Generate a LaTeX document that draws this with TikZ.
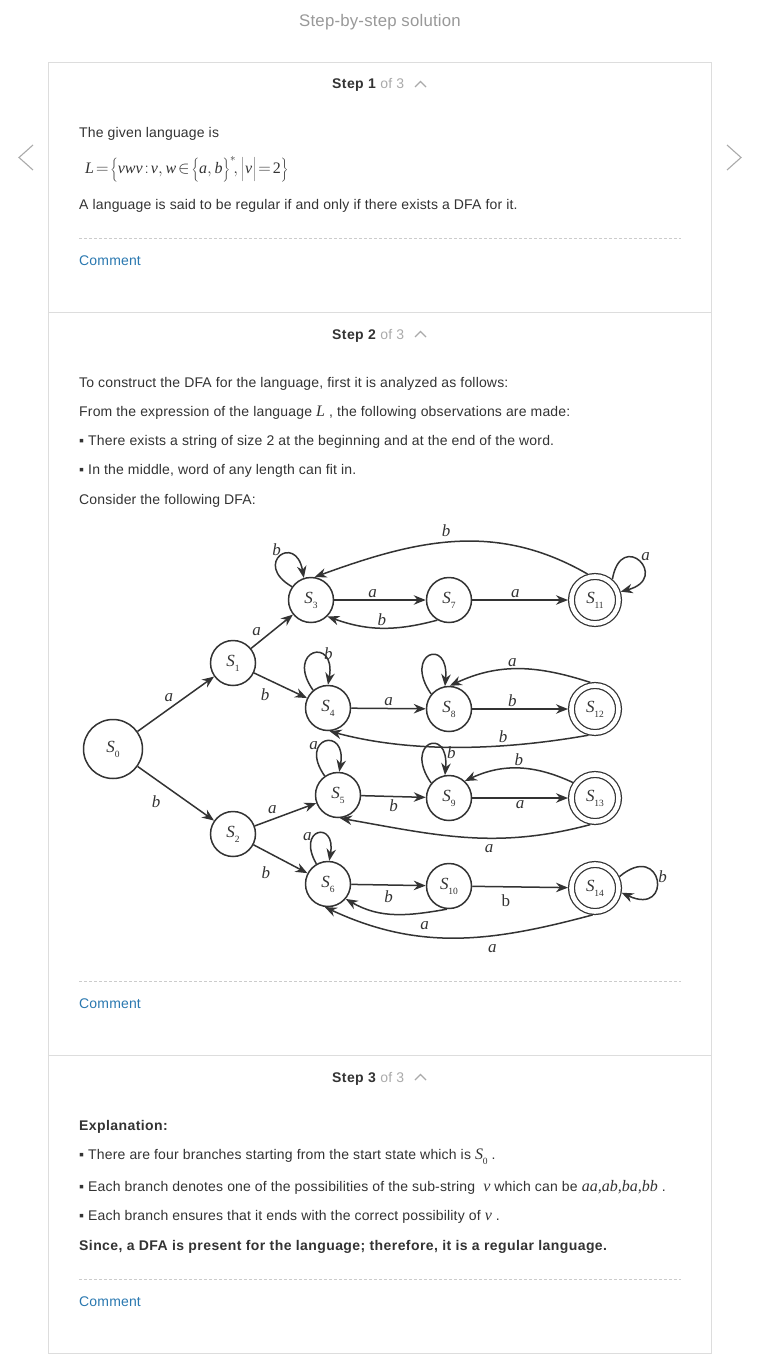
\documentclass[tikz,border=0pt]{standalone}
\usepackage{fontspec}
\setmainfont{Liberation Sans}[LetterSpace=1.2, BoldFeatures={LetterSpace=3}]
\newfontfamily\tnr{Liberation Serif}
\usetikzlibrary{arrows.meta}
\definecolor{ink}{HTML}{333333}
\definecolor{mute}{HTML}{999999}
\definecolor{faint}{HTML}{AAAAAA}
\definecolor{rulegray}{HTML}{DDDDDD}
\definecolor{dashgray}{HTML}{CCCCCC}
\definecolor{link}{HTML}{2A78B0}
\newcommand{\ital}[1]{{\tnr\itshape #1}}
\newcommand{\sn}[1]{\ital{S}\kern-0.2pt\raisebox{-0.3em}{\tnr\fontsize{9.5}{9.5}\selectfont #1}}
\newcommand{\tight}[1]{\mkern2mu{#1}\mkern2mu}
\begin{document}
\begin{tikzpicture}[x=1pt,y=-1pt,
  txt/.style={anchor=base west, inner sep=0pt, text=ink, font=\fontsize{14}{16}\selectfont},
  stephead/.style={txt, font=\fontsize{14}{16}\selectfont},
  note/.style={txt, text=link},
  caret/.style={draw=faint, line width=1.3pt},
  pager/.style={draw=faint, line width=1.1pt},
  box/.style={draw=rulegray, line width=0.9pt},
  cut/.style={draw=dashgray, line width=0.8pt, dash pattern=on 3pt off 2pt},
  st/.style={circle, draw=ink, line width=1.5pt, minimum size=45pt, inner sep=0pt, text=ink, font=\fontsize{17}{17}\selectfont},
  fin/.style={st, minimum size=47pt, double, double distance=4.6pt, line width=1.25pt, outer sep=3.5pt},
  tr/.style={draw=ink, line width=1.5pt, -{Stealth[length=12pt,width=9.5pt]}},
  lbl/.style={text=ink, inner sep=2pt, font=\tnr\itshape\fontsize{17}{17}\selectfont}]
\useasboundingbox (0,0) rectangle (760,1364);
\fill[white] (0,0) rectangle (760,1364);

% page frame
\node[txt, anchor=base, text=mute, font=\fontsize{16.8}{18}\selectfont] (title) at (380,27) {Step-by-step solution};
\draw[pager] (33,145) -- (19,157.5) -- (33,170);
\draw[pager] (727,145) -- (741,157.5) -- (727,170);
\draw[box] (48,62) rectangle (711,1353);
\draw[box] (48,312) -- (711,312);
\draw[box] (48,1055) -- (711,1055);

% step 1
\node[stephead] (h1) at (332,89) {\textbf{Step 1} \textcolor{faint}{of 3}};
\draw[caret] (415,87) -- (420.5,81.5) -- (426,87);
\node[txt] (given) at (79,137.5) {The given language is};
\node[txt, font=\fontsize{16}{18}\selectfont] (eq) at (85,174) {$\mbox{\ital{L}}\tight{=}\Biggl\{\mbox{\ital{vwv}}\tight{:}\mbox{\ital{v}},\mbox{\ital{w}}\tight{\in}\biggl\{\mbox{\ital{a}},\mbox{\ital{b}}\biggr\}^{*}\!,\biggl|\mkern1mu\mbox{\ital{v}}\mkern1mu\biggr|\tight{=}\mbox{\tnr 2}\Biggr\}$};
\node[txt] (regular) at (79,209.5) {A language is said to be regular if and only if there exists a DFA for it.};
\draw[cut] (79,238) -- (681,238);
\node[note] (c1) at (79,265.5) {Comment};

% step 2
\node[stephead] (h2) at (332,339) {\textbf{Step 2} \textcolor{faint}{of 3}};
\draw[caret] (415,337) -- (420.5,331.5) -- (426,337);
\node[txt] (l1) at (79,387.5) {To construct the DFA for the language, first it is analyzed as follows:};
\node[txt] (l2) at (79,416.5) {From the expression of the language \ital{\fontsize{16}{16}\selectfont L} , the following observations are made:};
\node[txt] (l3) at (79,445.5) {▪ There exists a string of size 2 at the beginning and at the end of the word.};
\node[txt] (l4) at (79,474.5) {▪ In the middle, word of any length can fit in.};
\node[txt] (l5) at (79,504.5) {Consider the following DFA:};

% DFA
\node[st, minimum size=59pt] (s0) at (113,749) {\sn{0}};
\node[st] (s1) at (233,663) {\sn{1}};
\node[st] (s2) at (233,834) {\sn{2}};
\node[st] (s3) at (311,600) {\sn{3}};
\node[st] (s4) at (328,708) {\sn{4}};
\node[st] (s5) at (338,795) {\sn{5}};
\node[st] (s6) at (328,884) {\sn{6}};
\node[st] (s7) at (449,600) {\sn{7}};
\node[st] (s8) at (449,709) {\sn{8}};
\node[st] (s9) at (449,798) {\sn{9}};
\node[st] (s10) at (449,886) {\sn{10}};
\node[fin] (s11) at (595,600) {\sn{11}};
\node[fin] (s12) at (595,709) {\sn{12}};
\node[fin] (s13) at (595,798) {\sn{13}};
\node[fin] (s14) at (595,888) {\sn{14}};

\draw[tr] (s0) -- node[lbl, above left]{a} (s1);
\draw[tr] (s0) -- node[lbl, below left=5pt, pos=0.4]{b} (s2);
\draw[tr] (s1) -- node[lbl, above left, pos=0.3]{a} (s3);
\draw[tr] (s1) -- node[lbl, below left=3pt, pos=0.4]{b} (s4);
\draw[tr] (s2) -- node[lbl, above left, pos=0.4]{a} (s5);
\draw[tr] (s2) -- node[lbl, below left=6pt, pos=0.47]{b} (s6);

\draw[tr] (s3) -- node[lbl, above, pos=0.42]{a} (s7);
\draw[tr] (s7) -- node[lbl, above, pos=0.45]{a} (s11);
\draw[tr] (s4) -- node[lbl, above]{a} (s8);
\draw[tr] (s8) -- node[lbl, above, pos=0.42]{b} (s12);
\draw[tr] (s5) -- node[lbl, below]{b} (s9);
\draw[tr] (s9) -- node[lbl, below]{a} (s13);
\draw[tr] (s6) -- node[lbl, below=3pt]{b} (s10);
\draw[tr] (s10) -- node[lbl, below=5pt, pos=0.35]{\upshape b} (s14);

\draw[tr] (s7.-120) to[out=-165, in=-20] node[lbl, above]{b} (s3.-45);
\draw[tr] (s11.106) to[out=150, in=20] node[lbl, above=3pt, pos=0.53]{b} (s3.81);
\draw[tr] (s12.100) to[out=162, in=25] node[lbl, above, pos=0.55]{a} (s8.88);
\draw[tr] (s12.-104) to[out=-170, in=-15, looseness=0.85] node[lbl, above, pos=0.33]{b} (s4.-86);
\draw[tr] (s13.145) to[out=155, in=25] node[lbl, above]{b} (s9.47);
\draw[tr] (s13.-100) to[out=-165, in=-10] node[lbl, below=4pt, pos=0.4]{a} (s5.-85);
\draw[tr] (s10.-95) to[out=-170, in=-30] node[lbl, below=6pt, pos=0.2]{a} (s6.-40);
\draw[tr] (s14.-95) to[out=-165, in=-25] node[lbl, below=6pt, pos=0.36]{a} (s6.-98);

% self loops
\draw[tr] (s3.145) to[out=150, in=100, looseness=8] node[lbl, above=2pt, pos=0.4]{b} (s3.108);
\draw[tr] (s4.130) to[out=125, in=80, looseness=8] node[lbl, right=3pt, pos=0.6]{b} (s4.90);
\draw[tr] (s8.140) to[out=125, in=85, looseness=8] (s8.100);
\draw[tr] (s5.125) to[out=125, in=80, looseness=8] node[lbl, left=-1pt, pos=0.38]{a} (s5.87);
\draw[tr] (s9.140) to[out=125, in=85, looseness=8] node[lbl, right=2pt, pos=0.8]{b} (s9.100);
\draw[tr] (s6.120) to[out=120, in=80, looseness=8] node[lbl, left=-1pt, pos=0.38]{a} (s6.87);
\draw[tr] (s11.50) to[out=80, in=15, looseness=9] node[lbl, above right=-1pt, pos=0.52]{a} (s11.18);
\draw[tr] (s14.25) to[out=40, in=-25, looseness=9] node[lbl, right, pos=0.45]{b} (s14.-10);

\draw[cut] (79,981) -- (681,981);
\node[note] (c2) at (79,1008.5) {Comment};

% step 3
\node[stephead] (h3) at (332,1082) {\textbf{Step 3} \textcolor{faint}{of 3}};
\draw[caret] (415,1080) -- (420.5,1074.5) -- (426,1080);
\node[txt] (expl) at (79,1130.5) {\textbf{Explanation:}};
\node[txt] (m1) at (79,1159.5) {▪ There are four branches starting from the start state which is {\fontsize{16}{16}\selectfont\sn{0}} .};
\node[txt] (m2) at (79,1191.5) {▪ Each branch denotes one of the possibilities of the sub-string\ \ {\fontsize{16}{16}\selectfont\ital{v}}\ which can be {\fontsize{16}{16}\selectfont\ital{aa,ab,ba,bb}} .};
\node[txt] (m3) at (79,1220.5) {▪ Each branch ensures that it ends with the correct possibility of {\fontsize{16}{16}\selectfont\ital{v}} .};
\node[txt] (since) at (79,1250.5) {\textbf{Since, a DFA is present for the language; therefore, it is a regular language.}};
\draw[cut] (79,1279) -- (681,1279);
\node[note] (c3) at (79,1306.5) {Comment};
\end{tikzpicture}
\end{document}
